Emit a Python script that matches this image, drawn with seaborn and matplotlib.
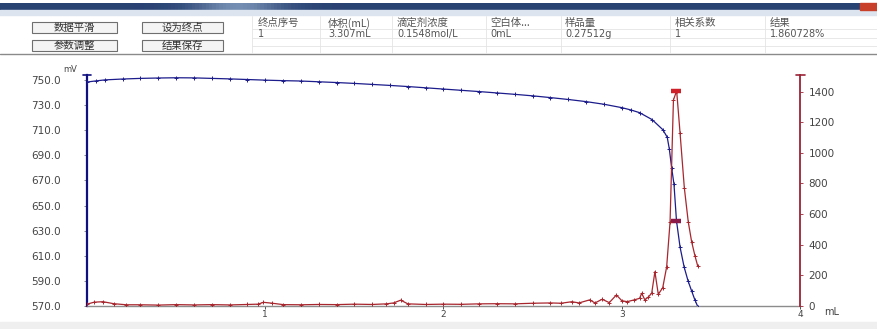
import matplotlib
matplotlib.use("Agg")
import matplotlib.pyplot as plt
import seaborn as sns
import pandas as pd
import numpy as np
from matplotlib.patches import Rectangle
from matplotlib.lines import Line2D

# ---------------- data ----------------
mv_volume = [0.00, 0.05, 0.10, 0.20, 0.30, 0.40, 0.50, 0.60, 0.70, 0.80, 0.90, 1.00,
             1.10, 1.20, 1.30, 1.40, 1.50, 1.60, 1.70, 1.80, 1.90, 2.00, 2.10, 2.20,
             2.30, 2.40, 2.50, 2.60, 2.70, 2.80, 2.90, 3.00, 3.05, 3.10, 3.17, 3.23,
             3.255, 3.267, 3.28, 3.293, 3.307, 3.327, 3.35, 3.372, 3.392, 3.41, 3.428]
mv_values = [748.4, 749.3, 750.1, 750.8, 751.3, 751.6, 751.8, 751.7, 751.3, 750.9, 750.4, 749.9,
             749.5, 749.2, 748.6, 748.0, 747.3, 746.5, 745.7, 744.8, 743.8, 742.8, 741.8, 740.8,
             739.7, 738.6, 737.4, 736.0, 734.5, 732.8, 730.7, 728.0, 726.2, 724.0, 718.5, 710.5,
             704.5, 695.0, 680.0, 667.0, 638.0, 617.0, 601.0, 590.0, 582.0, 575.0, 569.0]

d_volume = [0.00, 0.04, 0.09, 0.15, 0.22, 0.30, 0.40, 0.50, 0.60, 0.70, 0.80, 0.90,
            0.96, 0.99, 1.04, 1.10, 1.20, 1.30, 1.40, 1.50, 1.60, 1.68, 1.72, 1.76,
            1.80, 1.90, 2.00, 2.10, 2.20, 2.30, 2.40, 2.50, 2.60, 2.66, 2.72, 2.76,
            2.82, 2.85, 2.89, 2.93, 2.97, 3.00, 3.03, 3.07, 3.10, 3.112, 3.13, 3.15,
            3.168, 3.186, 3.205, 3.23, 3.252, 3.271, 3.29, 3.308, 3.327, 3.351, 3.373,
            3.392, 3.411, 3.426]
d_values = [12, 25, 28, 15, 8, 8, 6, 9, 7, 9, 7, 10,
            12, 24, 18, 9, 8, 10, 9, 12, 10, 14, 20, 38,
            14, 10, 12, 11, 14, 15, 14, 18, 20, 18, 28, 20,
            40, 20, 44, 22, 72, 35, 28, 40, 50, 83, 39, 60,
            83, 224, 76, 120, 256, 548, 1345, 1405, 1131, 772, 550,
            420, 326, 262]

end_volume = [3.307]
end_mv = [638.0]
end_peak = [1405]

left_ticks = [570, 590, 610, 630, 650, 670, 690, 710, 730, 750]
right_ticks = [0, 200, 400, 600, 800, 1000, 1200, 1400]
x_ticks = [1, 2, 3, 4]

buttons = ["数据平滑", "设为终点", "参数调整", "结果保存"]
headers = ["终点序号", "体积(mL)", "滴定剂浓度", "空白体...", "样品量", "相关系数", "结果"]
row1 = ["1", "3.307mL", "0.1548mol/L", "0mL", "0.27512g", "1", "1.860728%"]

# ---------------- style ----------------
sns.set_theme(style="white")
plt.rcParams['font.family'] = ['Noto Sans CJK SC', 'DejaVu Sans']

W, H = 877, 329
fig = plt.figure(figsize=(W / 100, H / 100), dpi=100)
fig.patch.set_facecolor("white")

def fx(px):
    return px / W

def fy(py):
    return 1 - py / H

BLUE = "#1c1c8c"
RED = "#a8262e"
TXT = "#444444"

# ---------------- window chrome / top panel ----------------
grad = np.linspace(0, 1, 256)
cols = []
for g in grad:
    light = np.exp(-((g - 0.27) / 0.05) ** 2) * 0.5
    c = np.array([0.16, 0.26, 0.45]) * (1 - light) + np.array([0.75, 0.85, 0.95]) * light
    cols.append(c)
cols = np.array(cols)[None, :, :]
bar_ax = fig.add_axes([0, fy(10), 1, (10 - 3) / H])
bar_ax.imshow(cols, aspect="auto", extent=[0, 1, 0, 1])
bar_ax.axis("off")
fig.add_artist(Rectangle((fx(860), fy(10)), fx(17), 7 / H, transform=fig.transFigure,
                         color="#c8402a", zorder=5))
fig.add_artist(Rectangle((0, fy(15)), 1, 5 / H, transform=fig.transFigure,
                         color="#dbe4ef", zorder=1))
fig.add_artist(Line2D([0, 1], [fy(54), fy(54)], transform=fig.transFigure,
                      color="#8a8a8a", lw=1.0))

# buttons
btn_pos = [(32, 22, 85, 11), (142, 22, 81, 11), (32, 40, 85, 11), (142, 40, 81, 11)]
for (bx, by, bw, bh), label in zip(btn_pos, buttons):
    fig.add_artist(Rectangle((fx(bx), fy(by + bh)), bw / W, bh / H, transform=fig.transFigure,
                             facecolor="#f4f4f4", edgecolor="#6f6f6f", lw=0.8))
    fig.text(fx(bx + bw / 2), fy(by + bh / 2), label, ha="center", va="center",
             fontsize=7.5, color="#333333")

# table
col_x = [258, 328, 397, 490, 565, 675, 770]
sep_x = [252, 320, 392, 486, 561, 670, 765]
for sx in sep_x:
    fig.add_artist(Line2D([fx(sx), fx(sx)], [fy(16), fy(53)], transform=fig.transFigure,
                          color="#e4e4e4", lw=0.6))
for yy in [29, 38, 46]:
    fig.add_artist(Line2D([fx(252), fx(877)], [fy(yy), fy(yy)], transform=fig.transFigure,
                          color="#e4e4e4", lw=0.6))
for cx, h, r in zip(col_x, headers, row1):
    fig.text(fx(cx), fy(23), h, ha="left", va="center", fontsize=7.5, color="#555555")
    fig.text(fx(cx), fy(34), r, ha="left", va="center", fontsize=7, color="#555555",
             family=['DejaVu Sans'])

# bottom grey strip
fig.add_artist(Rectangle((0, 0), 1, fy(322), transform=fig.transFigure,
                         color="#efefef", zorder=0))

# ---------------- chart ----------------
ax = fig.add_axes([fx(87), fy(306), (800 - 87) / W, (306 - 75) / H])
ax.set_facecolor("white")
ax2 = ax.twinx()

df_mv = pd.DataFrame({"volume": mv_volume, "mV": mv_values})
df_d = pd.DataFrame({"volume": d_volume, "d": d_values})

sns.lineplot(data=df_mv, x="volume", y="mV", ax=ax, color=BLUE, lw=0.9,
             marker="+", markersize=3.5, markeredgewidth=0.7, markeredgecolor=BLUE,
             sort=False, zorder=3)
sns.lineplot(data=df_d, x="volume", y="d", ax=ax2, color=RED, lw=0.9,
             marker="+", markersize=3.5, markeredgewidth=0.7, markeredgecolor=RED,
             sort=False, zorder=3)
# endpoint markers
ax.plot(end_volume, end_mv, marker="_", ms=7, mew=3.2, color="#8b1a4a", ls="none", zorder=5)
ax2.plot(end_volume, end_peak, marker="_", ms=7, mew=3.2, color="#d0202a", ls="none", zorder=5)

ax.set_xlim(0, 4)
ax.set_ylim(570, 754)
ax2.set_ylim(0, 1508)

ax.set_xticks(x_ticks)
ax.set_xticklabels([str(t) for t in x_ticks])
ax.set_yticks(left_ticks)
ax.set_yticklabels([f"{t:.1f}" for t in left_ticks])
ax2.set_yticks(right_ticks)
ax2.set_yticklabels([str(t) for t in right_ticks])

ax.set_xlabel("")
ax.set_ylabel("")
ax2.set_ylabel("")

for a in (ax, ax2):
    a.spines["top"].set_visible(False)
    a.grid(False)
ax.spines["right"].set_visible(False)
ax2.spines["left"].set_visible(False)
ax2.spines["bottom"].set_visible(False)
ax.spines["left"].set_color("#101080")
ax.spines["left"].set_linewidth(1.6)
ax2.spines["right"].set_color("#9b2335")
ax2.spines["right"].set_linewidth(1.3)
ax.spines["bottom"].set_color("#8c8c8c")
ax.spines["bottom"].set_linewidth(1.0)

for lab in ax.get_yticklabels() + ax2.get_yticklabels() + ax.get_xticklabels():
    lab.set_family(['DejaVu Sans'])

ax.tick_params(axis="y", direction="out", length=2, width=0.6, color="#777777",
               labelsize=7.5, labelcolor=TXT, pad=17, left=True)
ax.tick_params(axis="x", direction="out", length=2, width=0.6, color="#333333",
               labelsize=6.5, labelcolor=TXT, pad=1, bottom=True)
ax2.tick_params(axis="y", direction="out", length=2, width=0.6, color="#9b2335",
                labelsize=7.5, labelcolor=TXT, pad=4, right=True)

# axis caps at top of spines
fig.add_artist(Line2D([fx(83), fx(91)], [fy(75), fy(75)], transform=fig.transFigure,
                      color="#101080", lw=1.2))
fig.add_artist(Line2D([fx(796), fx(805)], [fy(75), fy(75)], transform=fig.transFigure,
                      color="#9b2335", lw=1.2))

# units
fig.text(fx(70), fy(69), "mV", ha="center", va="center", fontsize=6, color=TXT,
         family=['DejaVu Sans'])
fig.text(fx(832), fy(312), "mL", ha="center", va="center", fontsize=7, color=TXT,
         family=['DejaVu Sans'])

fig.savefig("out.png", dpi=100, facecolor="white")
